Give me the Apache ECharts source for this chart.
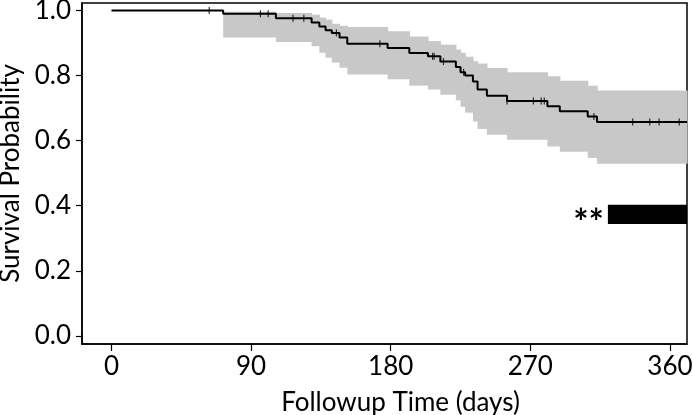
<!DOCTYPE html>
<html>
<head>
<meta charset="utf-8">
<script src="https://cdn.jsdelivr.net/npm/echarts@6/dist/echarts.min.js"></script>
<style>
  html, body { margin: 0; padding: 0; background: #fff; }
  #main { width: 693px; height: 415px; }
</style>
</head>
<body>
<div id="main"></div>
<script>
// event times (days) and KM estimate with 95% band
const times = [0, 72, 106, 129, 134, 138, 142, 147, 152, 178, 192, 204, 212, 222, 225, 228, 233, 236, 242, 255, 281, 289, 307, 313];
const survival = [1.0, 0.990, 0.976, 0.963, 0.951, 0.939, 0.931, 0.917, 0.898, 0.885, 0.869, 0.859, 0.843, 0.826, 0.810, 0.800, 0.782, 0.757, 0.738, 0.722, 0.706, 0.690, 0.674, 0.657];
const upper = [1.0, 0.996, 0.992, 0.987, 0.978, 0.972, 0.959, 0.953, 0.949, 0.936, 0.920, 0.906, 0.895, 0.880, 0.870, 0.858, 0.844, 0.837, 0.823, 0.810, 0.798, 0.784, 0.769, 0.754];
const lower = [1.0, 0.917, 0.903, 0.890, 0.870, 0.855, 0.840, 0.824, 0.803, 0.789, 0.769, 0.757, 0.741, 0.724, 0.704, 0.686, 0.659, 0.636, 0.618, 0.603, 0.582, 0.566, 0.547, 0.529];
const endTime = 371;
// censored observations
const censorTimes = [63, 96, 101, 117, 124, 145, 173, 207, 208, 214, 227, 255, 272, 277, 279, 311, 336, 347, 353, 366];
// significance bar
const sigBar = [320, 371, 0.344, 0.403];
const sigLabel = "**";
const xTicks = [0, 90, 180, 270, 360];
const yTicks = [0, 0.2, 0.4, 0.6, 0.8, 1.0];

function survAt(t) {
  let s = survival[0];
  for (let i = 0; i < times.length; i++) {
    if (times[i] <= t) s = survival[i];
  }
  return s;
}

let lineData = times.map((t, i) => [t, survival[i]]);
lineData.push([endTime, survival[survival.length - 1]]);

let bandData = [];
for (let i = 1; i < times.length; i++) {
  let t1 = i + 1 < times.length ? times[i + 1] : endTime;
  bandData.push([times[i], t1, lower[i], upper[i]]);
}

let censorData = censorTimes.map(t => [t, survAt(t)]);

const font = "Lato";
let chart = echarts.init(document.getElementById("main"));

let option = {
  animation: false,
  grid: {
    left: 82,
    right: 6,
    top: 3,
    bottom: 71,
    outerBoundsMode: "none",
    show: true,
    borderColor: "#000",
    borderWidth: 1.5
  },
  xAxis: {
    type: "value",
    min: -19,
    max: 371,
    name: "Followup Time (days)",
    nameLocation: "middle",
    nameGap: 46,
    nameTextStyle: { color: "#000", fontSize: 26, fontFamily: font, padding: [0, 0, 0, 32] },
    axisLine: { show: true, onZero: false, lineStyle: { color: "#000", width: 1.5 } },
    axisTick: { show: true, customValues: xTicks, length: 7, lineStyle: { color: "#000", width: 1.2 } },
    axisLabel: { customValues: xTicks, color: "#000", fontSize: 26, fontFamily: font, margin: 10 },
    splitLine: { show: false }
  },
  yAxis: {
    type: "value",
    min: -0.025,
    max: 1.023,
    name: "Survival Probability",
    nameLocation: "middle",
    nameGap: 58,
    nameTextStyle: { color: "#000", fontSize: 26, fontFamily: font },
    axisLine: { show: true, onZero: false, lineStyle: { color: "#000", width: 1.5 } },
    axisTick: { show: true, customValues: yTicks, length: 6, lineStyle: { color: "#000", width: 1.2 } },
    axisLabel: {
      customValues: yTicks,
      color: "#000",
      fontSize: 26,
      fontFamily: font,
      margin: 11,
      formatter: v => v.toFixed(1)
    },
    splitLine: { show: false }
  },
  series: [
    {
      name: "band",
      type: "custom",
      data: bandData,
      encode: { x: [0, 1], y: [2, 3] },
      z: 1,
      renderItem: function (params, api) {
        let p0 = api.coord([api.value(0), api.value(3)]);
        let p1 = api.coord([api.value(1), api.value(2)]);
        return {
          type: "rect",
          shape: { x: p0[0], y: p0[1], width: p1[0] - p0[0] + 0.6, height: p1[1] - p0[1] },
          style: { fill: "#c8c8c8" }
        };
      }
    },
    {
      name: "survival",
      type: "line",
      step: "end",
      data: lineData,
      showSymbol: false,
      symbol: "none",
      z: 3,
      lineStyle: { color: "#000", width: 2 }
    },
    {
      name: "censored",
      type: "scatter",
      data: censorData,
      symbol: "rect",
      symbolSize: [1.2, 7],
      z: 4,
      itemStyle: { color: "#000" }
    },
    {
      name: "sig",
      type: "custom",
      data: [sigBar],
      encode: { x: [0, 1], y: [2, 3] },
      z: 5,
      renderItem: function (params, api) {
        let p0 = api.coord([api.value(0), api.value(3)]);
        let p1 = api.coord([api.value(1), api.value(2)]);
        return {
          type: "group",
          children: [
            {
              type: "rect",
              shape: { x: p0[0], y: p0[1], width: p1[0] - p0[0], height: p1[1] - p0[1] },
              style: { fill: "#000" }
            },
            {
              type: "text",
              style: {
                text: sigLabel,
                x: p0[0] - 4,
                y: (p0[1] + p1[1]) / 2 + 9,
                align: "right",
                verticalAlign: "middle",
                font: "bold 36px " + font,
                fill: "#000"
              }
            }
          ]
        };
      }
    }
  ]
};

chart.setOption(option);
</script>
</body>
</html>
